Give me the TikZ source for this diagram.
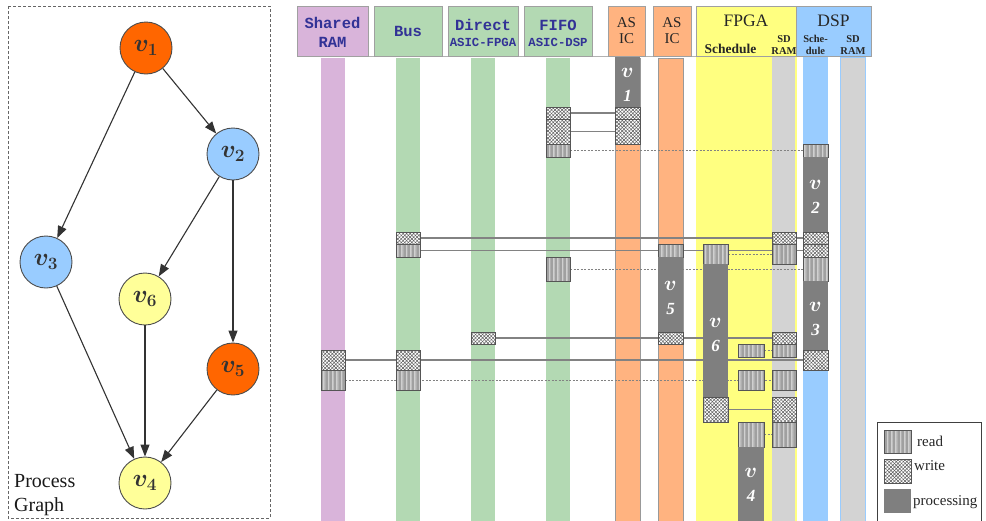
\documentclass[tikz,border=0pt]{standalone}
\usepackage{fontspec}
\setmainfont{Liberation Serif}
\newfontfamily\hdrmono{Liberation Mono}
\usepackage{bm}
\usetikzlibrary{arrows.meta,patterns.meta,fit}

\pgfdeclarelayer{back}
\pgfdeclarelayer{links}
\pgfsetlayers{back,links,main}

% palette
\definecolor{cpink}{RGB}{217,180,218}
\definecolor{cgreen}{RGB}{179,217,179}
\definecolor{corange}{RGB}{255,179,128}
\definecolor{cyellow}{RGB}{255,255,128}
\definecolor{cblue}{RGB}{153,204,255}
\definecolor{csd}{RGB}{211,211,211}
\definecolor{procgray}{RGB}{127,127,127}
\definecolor{readfill}{RGB}{208,208,208}
\definecolor{readline}{RGB}{160,160,160}
\definecolor{writeline}{RGB}{90,90,90}
\definecolor{blockedge}{RGB}{85,85,85}
\definecolor{linkgray}{RGB}{130,130,130}
\definecolor{hdrborder}{RGB}{160,160,160}
\definecolor{hdrtext}{RGB}{50,50,150}
\definecolor{gorange}{RGB}{255,102,0}
\definecolor{gblue}{RGB}{153,204,255}
\definecolor{gyellow}{RGB}{255,255,153}
\definecolor{ink}{RGB}{51,51,51}

% one timeline cell spanning x1..x2, y1..y2
\newcommand\cellbox[6]{\node[#1, fit={(#3,#5) (#4,#6)}] (#2) {};}

\begin{document}
\begin{tikzpicture}[x=1pt,y=-1pt,
  cell/.style={inner sep=0pt, outer sep=0pt},
  rd/.style={cell, fill=readfill,
    postaction={pattern={Lines[angle=90,distance=1.3pt,line width=0.35pt]}, pattern color=readline},
    postaction={draw=blockedge, line width=0.7pt}},
  wr/.style={cell, fill=white,
    postaction={pattern={Lines[angle=45,distance=2.5pt,line width=0.5pt]}, pattern color=writeline},
    postaction={pattern={Lines[angle=-45,distance=2.5pt,line width=0.5pt]}, pattern color=writeline},
    postaction={draw=blockedge, line width=0.7pt}},
  proc/.style={cell, fill=procgray},
  plab/.style={text=white, align=center, inner sep=0pt,
    font=\fontsize{22}{24}\selectfont},
  solidlink/.style={draw=linkgray, line width=1.1pt},
  dashlink/.style={draw=linkgray, line width=0.9pt, dash pattern=on 2pt off 1.5pt},
  hdr/.style={draw=hdrborder, line width=0.8pt},
  hmono/.style={inner sep=0pt, text=hdrtext, font=\hdrmono\bfseries\fontsize{15.5}{16}\selectfont},
  hmonos/.style={inner sep=0pt, text=hdrtext, font=\hdrmono\bfseries\fontsize{12.3}{13}\selectfont},
  hserif/.style={inner sep=0pt, text=black!85, font=\fontsize{15}{16}\selectfont},
  hbig/.style={inner sep=0pt, text=black!85, font=\fontsize{17.5}{18}\selectfont},
  hsub/.style={inner sep=0pt, text=black!85, font=\bfseries\fontsize{13.5}{14}\selectfont},
  hsmall/.style={inner sep=0pt, text=black!85, font=\bfseries\fontsize{10.5}{11}\selectfont},
  gnode/.style={circle, minimum size=52pt, inner sep=0pt, draw=black!70, line width=0.9pt,
    text=ink, font=\fontsize{23}{23}\selectfont},
  gedge/.style={draw=ink, line width=1.1pt, -{Triangle[length=12pt,width=9pt]}},
  legtxt/.style={inner sep=0pt, text=black!85, font=\fontsize{15}{16}\selectfont}
]
\useasboundingbox (0,0) rectangle (986,520);

% ---------------- process graph ----------------
\draw[black!60, line width=0.8pt, dash pattern=on 3pt off 2pt] (8,6) rectangle (270,518);
\node[gnode, fill=gorange] (g1) at (146,48)  {$\bm{v}_{\bm{1}}$};
\node[gnode, fill=gblue]   (g2) at (233,154) {$\bm{v}_{\bm{2}}$};
\node[gnode, fill=gblue]   (g3) at (46,262)  {$\bm{v}_{\bm{3}}$};
\node[gnode, fill=gyellow] (g6) at (145,299) {$\bm{v}_{\bm{6}}$};
\node[gnode, fill=gorange] (g5) at (233,369) {$\bm{v}_{\bm{5}}$};
\node[gnode, fill=gyellow] (g4) at (145,483) {$\bm{v}_{\bm{4}}$};
\draw[gedge] (g1) -- (g2);
\draw[gedge] (g1) -- (g3);
\draw[gedge] (g2) -- (g6);
\draw[gedge] (g2) -- (g5);
\draw[gedge] (g3) -- (g4);
\draw[gedge] (g6) -- (g4);
\draw[gedge] (g5) -- (g4);
\node[anchor=base west, inner sep=0pt, text=black!90, font=\fontsize{20}{24}\selectfont] (pg1) at (14,487) {Process};
\node[anchor=base west, inner sep=0pt, text=black!90, font=\fontsize{20}{24}\selectfont] (pg2) at (14,511) {Graph};

% ---------------- resource columns ----------------
\begin{pgfonlayer}{back}
  % lanes
  \fill[cpink]  (321,58) rectangle (345,521);
  \fill[cgreen] (396,58) rectangle (420,521);
  \fill[cgreen] (471,58) rectangle (495,521);
  \fill[cgreen] (546,58) rectangle (570,521);
  \filldraw[fill=corange, draw=black!40, line width=0.7pt] (615,58) rectangle (640,522);
  \filldraw[fill=corange, draw=black!40, line width=0.7pt] (658,58) rectangle (683,522);
  \fill[cyellow] (696,57) rectangle (797,521);
  \fill[csd] (772,57) rectangle (795,521);
  \fill[cblue] (803,57) rectangle (828,521);
  \filldraw[fill=csd, draw=cblue, line width=1pt] (840.5,57) rectangle (865.5,522);
  % header strip
  \draw[black!30, line width=0.6pt] (297,56.5) -- (871,56.5);
  \draw[hdr, fill=cpink]   (297,6) rectangle (368,56);
  \draw[hdr, fill=cgreen]  (374,6) rectangle (442,56);
  \draw[hdr, fill=cgreen]  (448,6) rectangle (518,56);
  \draw[hdr, fill=cgreen]  (524,6) rectangle (592,56);
  \draw[hdr, fill=corange] (608,6) rectangle (645,56);
  \draw[hdr, fill=corange] (653,6) rectangle (691,56);
  \draw[hdr, fill=cyellow] (696,6) rectangle (796,56);
  \draw[hdr, fill=cblue]   (796,6) rectangle (871,56);
\end{pgfonlayer}

\node[hmono]  (hShared) at (332.5,22.5) {Shared};
\node[hmono]  (hShRam)  at (332.5,42) {RAM};
\node[hmono]  (hBus)    at (408,31) {Bus};
\node[hmono]  (hDirect) at (483,25) {Direct};
\node[hmonos] (hDirSub) at (483,42) {ASIC-FPGA};
\node[hmono]  (hFifo)   at (558,25) {FIFO};
\node[hmonos] (hFifoSub) at (558,42) {ASIC-DSP};
\node[hserif] (hAsA) at (626.5,22.5) {AS};
\node[hserif] (hIcA) at (626.5,39) {IC};
\node[hserif] (hAsB) at (672,22.5) {AS};
\node[hserif] (hIcB) at (672,39) {IC};
\node[hbig]   (hFpga) at (746,21) {FPGA};
\node[hbig]   (hDsp)  at (833.5,21) {DSP};
\node[hsub]   (hSched) at (730.5,49) {Schedule};
\node[hsmall] (hSdA)   at (784,39) {SD};
\node[hsmall] (hRamA)  at (784,51) {RAM};
\node[hsmall] (hSche)  at (815.5,39) {Sche-};
\node[hsmall] (hDule)  at (815.5,51) {dule};
\node[hsmall] (hSdB)   at (853,39) {SD};
\node[hsmall] (hRamB)  at (853,51) {RAM};

% ---------------- timeline cells ----------------
% ASIC 1
\cellbox{proc}{p1}{615}{640}{57}{107}
\cellbox{wr}{a1w1}{615}{640}{107}{119}
\cellbox{wr}{a1w2}{615}{640}{119}{144}
% FIFO ASIC-DSP
\cellbox{wr}{fw1}{546}{570}{107}{119}
\cellbox{wr}{fw2}{546}{570}{119}{144}
\cellbox{rd}{fr1}{546}{570}{144}{157}
\cellbox{rd}{fr2}{546}{570}{257}{281}
% DSP schedule
\cellbox{rd}{dr1}{803}{828}{144}{157}
\cellbox{proc}{p2}{803}{828}{157}{232}
\cellbox{wr}{dw1}{803}{828}{232}{244}
\cellbox{wr}{dw2}{803}{828}{244}{257}
\cellbox{rd}{dr2}{803}{828}{257}{281}
\cellbox{proc}{p3}{803}{828}{281}{350}
\cellbox{wr}{dw3}{803}{828}{350}{370}
% Bus
\cellbox{wr}{bw1}{396}{420}{232}{244}
\cellbox{rd}{br1}{396}{420}{244}{257}
\cellbox{wr}{bw2}{396}{420}{350}{370}
\cellbox{rd}{br2}{396}{420}{370}{390}
% Shared RAM
\cellbox{wr}{sw}{321}{345}{350}{370}
\cellbox{rd}{sr}{321}{345}{370}{390}
% Direct ASIC-FPGA
\cellbox{wr}{dirw}{471}{495}{332}{344}
% ASIC 2
\cellbox{rd}{a2r}{658}{683}{244}{257}
\cellbox{proc}{p5}{658}{683}{257}{332}
\cellbox{wr}{a2w}{658}{683}{332}{344}
% FPGA schedule, first lane
\cellbox{rd}{f6r}{703}{728}{244}{264}
\cellbox{proc}{p6}{703}{728}{264}{397}
\cellbox{wr}{f6w}{703}{728}{397}{422}
% FPGA schedule, second lane
\cellbox{rd}{fsr1}{738}{764}{344}{357}
\cellbox{rd}{fsr2}{738}{764}{370}{390}
\cellbox{rd}{f4r}{738}{764}{422}{447}
\cellbox{proc}{p4}{738}{764}{447}{521}
% FPGA SD RAM
\cellbox{wr}{mw1}{772}{796}{232}{244}
\cellbox{rd}{mr1}{772}{796}{244}{264}
\cellbox{wr}{mw2}{772}{796}{332}{344}
\cellbox{rd}{mr2}{772}{796}{344}{357}
\cellbox{rd}{mr3}{772}{796}{370}{390}
\cellbox{wr}{mw3}{772}{796}{397}{422}
\cellbox{rd}{mr4}{772}{796}{422}{447}

% task labels
\node[plab] (l1) at (627.5,85) {$\bm{v}$\\{\fontsize{17}{24}\selectfont\bfseries\itshape 1}};
\node[plab] (l2) at (815.5,197) {$\bm{v}$\\{\fontsize{17}{24}\selectfont\bfseries\itshape 2}};
\node[plab] (l3) at (815.5,319) {$\bm{v}$\\{\fontsize{17}{24}\selectfont\bfseries\itshape 3}};
\node[plab] (l5) at (670.5,298) {$\bm{v}$\\{\fontsize{17}{24}\selectfont\bfseries\itshape 5}};
\node[plab] (l6) at (715.5,335) {$\bm{v}$\\{\fontsize{17}{24}\selectfont\bfseries\itshape 6}};
\node[plab] (l4) at (751,485) {$\bm{v}$\\{\fontsize{17}{24}\selectfont\bfseries\itshape 4}};

% ---------------- transfers ----------------
\begin{pgfonlayer}{links}
  \draw[solidlink] (fw1) -- (a1w1);
  \draw[solidlink] (fw2) -- (a1w2);
  \draw[dashlink]  (fr1) -- (dr1);
  \draw[solidlink] (bw1) -- (dw1);
  \draw[solidlink] (br1) -- (dw2);
  \draw[dashlink]  (f6r) -- (mr1);
  \draw[dashlink]  (fr2) -- (dr2);
  \draw[solidlink] (dirw) -- (mw2);
  \draw[dashlink]  (fsr1) -- (mr2);
  \draw[solidlink] (sw) -- (dw3);
  \draw[dashlink]  (sr) -- (mr3);
  \draw[solidlink] (f6w) -- (mw3);
  \draw[dashlink]  (f4r) -- (mr4);
\end{pgfonlayer}

% ---------------- legend ----------------
\draw[black!75, line width=1pt] (877,422) rectangle (981,522);
\cellbox{rd}{kr}{884}{911}{430}{453}
\cellbox{wr}{kw}{884}{911}{459}{483}
\cellbox{proc}{kp}{884}{911}{489}{513}
\node[legtxt, anchor=base west] (krt) at (917,446) {read};
\node[legtxt, anchor=base west] (kwt) at (914,470) {write};
\node[legtxt, anchor=base west] (kpt) at (913,505) {processing};
\end{tikzpicture}
\end{document}
